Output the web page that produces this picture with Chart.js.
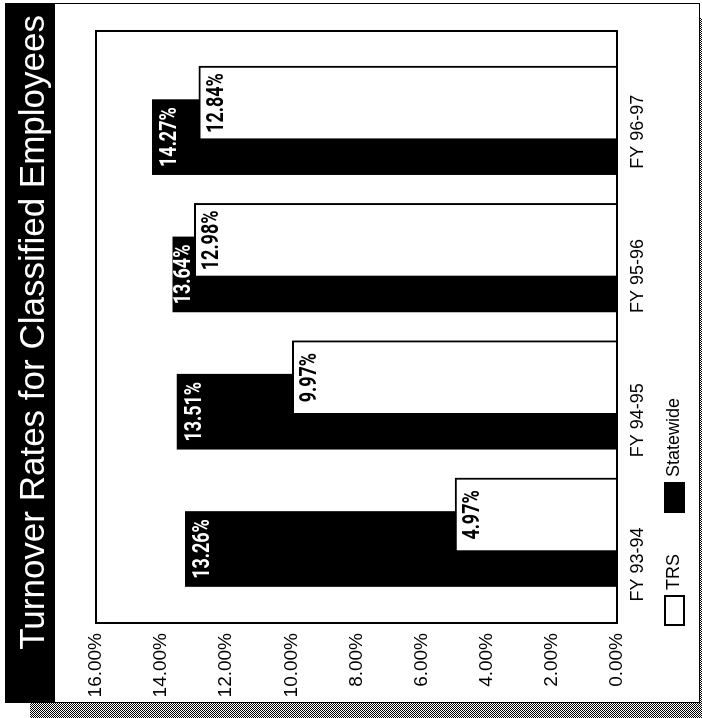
<!DOCTYPE html>
<html>
<head>
<meta charset="utf-8">
<script src="https://cdn.jsdelivr.net/npm/chart.js@4.4.0/dist/chart.umd.min.js"></script>
<style>
  html, body { margin: 0; padding: 0; background: #fff; overflow: hidden; }
  /* the sheet is laid out upright, then turned a quarter-turn to the left */
  #sheet { position: absolute; left: 0; top: 0; width: 718px; height: 702px;
           transform-origin: 0 0; transform: translateY(718px) rotate(-90deg); background: #fff; }
  #shadow { position: absolute; left: 0; top: 30px; width: 700px; height: 690px;
            background: repeating-conic-gradient(#000 0% 25%, #fff 0% 50%) 0 0 / 2px 2px; }
  #frame { position: absolute; left: 15px; top: 5px; width: 698px; height: 693px;
           border: 1px solid #000; background: #fff; }
  #band { position: absolute; left: 15px; top: 5px; width: 700px; height: 50px; background: #000; }
  canvas { position: absolute; left: 0; top: 0; }
</style>
</head>
<body>
<div id="sheet">
  <div id="shadow"></div>
  <div id="frame"></div>
  <div id="band"></div>
  <canvas id="chart" width="718" height="702"></canvas>
</div>
<script>
const categories = ['FY 93-94', 'FY 94-95', 'FY 95-96', 'FY 96-97'];
const trsRates = [4.97, 9.97, 12.98, 12.84];
const statewideRates = [13.26, 13.51, 13.64, 14.27];
const rateTicks = [0, 2, 4, 6, 8, 10, 12, 14, 16];

const FONT = 'Liberation Sans';
Chart.defaults.font.family = FONT;
Chart.defaults.color = '#000';

// value printed near the top of each bar, in a squeezed heavy face;
// a label is lifted clear of any overlapping bar that is painted above it
const barValueLabels = {
  id: 'barValueLabels',
  afterDatasetsDraw(chart, args, opts) {
    const ctx = chart.ctx;
    const halfH = opts.halfHeight;
    ctx.save();
    ctx.font = opts.font;
    chart.data.datasets.forEach((ds, di) => {
      const meta = chart.getDatasetMeta(di);
      meta.data.forEach((bar, i) => {
        const text = ds.data[i].y.toFixed(2) + '%';
        const halfW = ctx.measureText(text).width * opts.squeeze / 2;
        let cy = bar.y + opts.offset;
        chart.data.datasets.forEach((other, oj) => {
          if (oj === di || other.order >= ds.order) return;
          const ob = chart.getDatasetMeta(oj).data[i];
          const oLeft = ob.x - ob.width / 2, oRight = ob.x + ob.width / 2;
          const overlapsX = bar.x + halfW > oLeft && bar.x - halfW < oRight;
          if (overlapsX && ob.y > bar.y && ob.y < cy + halfH) {
            cy = Math.min(cy, ob.y - halfH - 1);
          }
        });
        ctx.save();
        ctx.translate(bar.x, cy);
        ctx.scale(opts.squeeze, 1);
        ctx.textAlign = 'center';
        ctx.textBaseline = 'middle';
        ctx.fillStyle = ds.labelColor;
        ctx.fillText(text, 0, 0);
        ctx.restore();
      });
    });
    ctx.restore();
  }
};

// box around the plotting area
const plotFrame = {
  id: 'plotFrame',
  afterDatasetsDraw(chart, args, opts) {
    const { ctx, chartArea: a } = chart;
    ctx.save();
    ctx.strokeStyle = '#000';
    ctx.lineWidth = opts.width;
    ctx.strokeRect(a.left, a.top, a.right - a.left, a.bottom - a.top);
    ctx.restore();
  }
};

// single-row legend under the category labels
const rowLegend = {
  id: 'rowLegend',
  afterDraw(chart, args, opts) {
    const ctx = chart.ctx;
    ctx.save();
    ctx.font = opts.font;
    ctx.textAlign = 'left';
    ctx.textBaseline = 'middle';
    let x = opts.x;
    const items = chart.data.datasets.slice().sort((a, b) => a.order - b.order);
    items.forEach(ds => {
      ctx.fillStyle = ds.backgroundColor;
      ctx.fillRect(x, opts.y, opts.boxWidth, opts.boxHeight);
      ctx.strokeStyle = '#000';
      ctx.lineWidth = opts.lineWidth;
      ctx.strokeRect(x + 1, opts.y + 1, opts.boxWidth - 2, opts.boxHeight - 2);
      const tx = x + opts.boxWidth + opts.textGap;
      ctx.fillStyle = '#000';
      ctx.fillText(ds.label, tx, opts.y + opts.boxHeight / 2);
      x = tx + ctx.measureText(ds.label).width + opts.itemGap;
    });
    ctx.restore();
  }
};

new Chart(document.getElementById('chart'), {
  type: 'bar',
  data: {
    datasets: [
      {
        label: 'TRS',
        data: categories.map((c, i) => ({ x: i, y: trsRates[i] })),
        xAxisID: 'xt',
        yAxisID: 'y',
        order: 0,
        grouped: false,
        backgroundColor: '#fff',
        borderColor: '#000',
        borderWidth: 2,
        borderSkipped: 'start',
        barThickness: 74,
        labelColor: '#000'
      },
      {
        label: 'Statewide',
        data: categories.map((c, i) => ({ x: i, y: statewideRates[i] })),
        xAxisID: 'xs',
        yAxisID: 'y',
        order: 1,
        grouped: false,
        backgroundColor: '#000',
        borderColor: '#000',
        borderWidth: 0,
        barThickness: 75,
        labelColor: '#fff'
      }
    ]
  },
  options: {
    responsive: false,
    devicePixelRatio: 1,
    animation: false,
    events: [],
    layout: { padding: { left: 15, right: 15, top: 5, bottom: 0 } },
    scales: {
      xs: { type: 'linear', position: 'bottom', display: false, offset: false, min: -0.539, max: 3.773 },
      xt: { type: 'linear', position: 'bottom', display: false, offset: false, min: -0.787, max: 3.525 },
      xl: {
        type: 'linear', position: 'bottom', offset: false, min: -0.405, max: 3.698,
        grid: { display: false, drawTicks: false, offset: false },
        border: { display: false },
        ticks: {
          padding: 10, autoSkip: false, minRotation: 0, maxRotation: 0,
          font: { family: FONT, size: 18 },
          callback: v => categories[v] ?? ''
        },
        afterBuildTicks: s => { s.ticks = categories.map((c, i) => ({ value: i })); },
        afterFit: s => { s.height = 85; }
      },
      y: {
        type: 'linear', position: 'left', min: 0, max: 16,
        grid: { display: false, drawTicks: false },
        border: { display: false },
        ticks: {
          padding: 10,
          font: { family: FONT, size: 19 },
          callback: v => v.toFixed(2) + '%'
        },
        afterBuildTicks: s => { s.ticks = rateTicks.map(v => ({ value: v })); },
        afterFit: s => { s.width = 80; }
      },
      yr: {
        type: 'linear', position: 'right',
        grid: { display: false, drawTicks: false },
        border: { display: false },
        ticks: { display: false },
        afterFit: s => { s.width = 16; }
      }
    },
    plugins: {
      legend: { display: false },
      tooltip: { enabled: false },
      title: {
        display: true,
        text: 'Turnover Rates for Classified Employees',
        align: 'end',
        color: '#fff',
        font: { family: FONT, size: 35, weight: 'normal', lineHeight: 1.2 },
        padding: { top: 8, bottom: 41 }
      },
      barValueLabels: { font: 'bold 23px Roboto', squeeze: 0.78, offset: 18, halfHeight: 9 },
      plotFrame: { width: 2 },
      rowLegend: {
        font: '18px "Liberation Sans"', x: 92, y: 664, boxWidth: 31, boxHeight: 21,
        lineWidth: 2, textGap: 5, itemGap: 41
      }
    }
  },
  plugins: [barValueLabels, plotFrame, rowLegend]
});
</script>
</body>
</html>
